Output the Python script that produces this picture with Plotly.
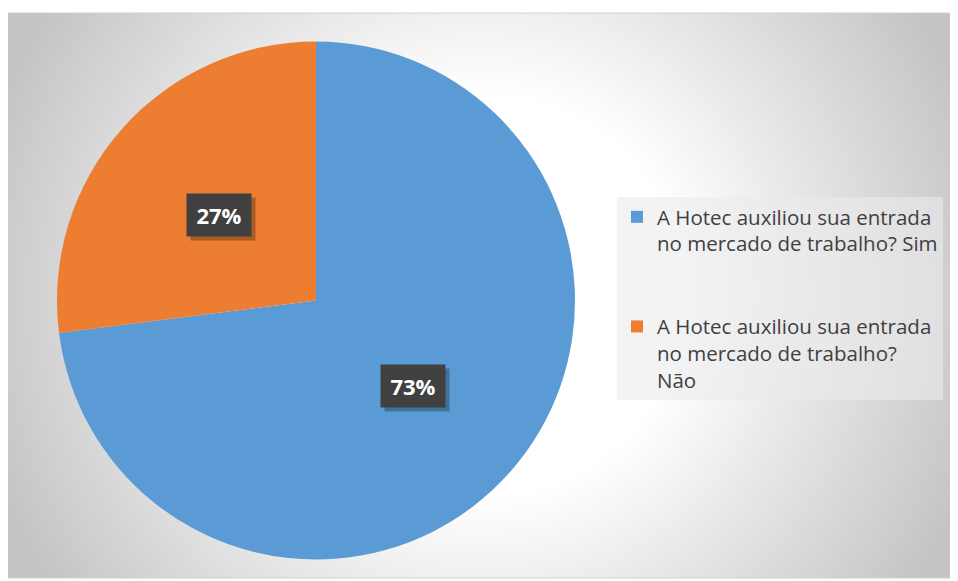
import base64, struct, zlib
import numpy as np
import plotly.graph_objects as go

# ---- data ----
labels = [
    "A Hotec auxiliou sua entrada<br>no mercado de trabalho? Sim<br> <br> ",
    "A Hotec auxiliou sua entrada<br>no mercado de trabalho?<br>Não",
]
values = [73, 27]
colors = ["#5B9BD5", "#ED7D31"]

W, H = 958, 581
OFF = 8  # page body margin
# chart area (window px)
CX0, CY0, CX1, CY1 = 7, 13, 957, 578
# pie geometry (window px)
PCX, PCY, PR = 316, 300.5, 259


def fx(px):
    return (px - OFF) / W


def fy(py):
    return 1 - (py - OFF) / H


# ---- radial gradient background as PNG ----
def gradient_png(w, h, cx, cy):
    yy, xx = np.mgrid[0:h, 0:w].astype(float)
    d = np.sqrt((xx - cx) ** 2 + (yy - cy) ** 2)
    t = np.clip((d - 200) / 320.0, 0, 1)
    img = (255 - 59 * t).round().astype(np.uint8)
    sub = img.astype(np.int16)
    sub[:, 1:] = (img[:, 1:].astype(np.int16) - img[:, :-1].astype(np.int16)) % 256
    rows = np.hstack([np.ones((h, 1), dtype=np.uint8), sub.astype(np.uint8)])
    raw = rows.tobytes()

    def chunk(tag, data):
        c = struct.pack(">I", len(data)) + tag + data
        return c + struct.pack(">I", zlib.crc32(tag + data) & 0xFFFFFFFF)

    png = b"\x89PNG\r\n\x1a\n"
    png += chunk(b"IHDR", struct.pack(">IIBBBBB", w, h, 8, 0, 0, 0, 0))
    png += chunk(b"IDAT", zlib.compress(raw, 9))
    png += chunk(b"IEND", b"")
    return "data:image/png;base64," + base64.b64encode(png).decode()


gw, gh = CX1 - CX0, CY1 - CY0
bg_src = gradient_png(gw, gh, 482 - CX0, 295 - CY0)

fig = go.Figure()
fig.add_trace(
    go.Pie(
        labels=labels,
        values=values,
        marker=dict(colors=colors, line=dict(width=0)),
        sort=False,
        direction="clockwise",
        rotation=0,
        textinfo="none",
        hoverinfo="label+percent",
        domain=dict(
            x=[fx(PCX - PR), fx(PCX + PR)],
            y=[fy(PCY + PR), fy(PCY - PR)],
        ),
    )
)

# percentage label boxes at mid-angle of each slice
annotations = []
total = sum(values)
cum = 0
for v in values:
    mid = (cum + v / 2) / total * 2 * np.pi
    cum += v
    px = PCX + 0.5 * PR * np.sin(mid)
    py = PCY - 0.5 * PR * np.cos(mid)
    txt = f"{round(v / total * 100)}%"
    common = dict(
        x=fx(px), y=fy(py), xref="paper", yref="paper",
        xanchor="center", yanchor="middle",
        showarrow=False, width=62, height=40, borderpad=1,
        font=dict(family="Open Sans", size=22, color="white", weight="bold"),
    )
    # shadow
    annotations.append(dict(common, text=" ", bgcolor="rgba(0,0,0,0.28)", xshift=4, yshift=-4))
    annotations.append(dict(common, text=f"<b>{txt}</b>", bgcolor="#404040"))

fig.update_layout(
    width=W,
    height=H,
    margin=dict(l=0, r=0, t=0, b=0),
    paper_bgcolor="white",
    plot_bgcolor="rgba(0,0,0,0)",
    images=[
        dict(
            source=bg_src, xref="paper", yref="paper",
            x=fx(CX0), y=fy(CY0), sizex=gw / W, sizey=gh / H,
            xanchor="left", yanchor="top", sizing="stretch", layer="below",
        )
    ],
    shapes=[
        dict(
            type="rect", xref="paper", yref="paper",
            x0=fx(CX0), x1=fx(CX1), y0=fy(CY1), y1=fy(CY0),
            line=dict(color="#d0d0d0", width=1),
        )
    ],
    legend=dict(
        x=fx(617), y=fy(197), xanchor="left", yanchor="top",
        bgcolor="rgba(235,235,235,0.6)",
        font=dict(family="Open Sans", size=20.5, color="#404040"),
        valign="top",
        tracegroupgap=0,
        entrywidth=303,
    ),
    annotations=annotations,
    showlegend=True,
)

fig.write_html("out.html", config={"displayModeBar": False})
